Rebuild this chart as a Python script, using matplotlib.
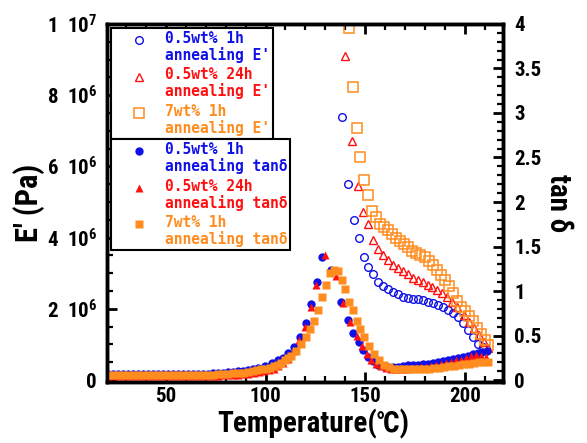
import numpy as np
import matplotlib
matplotlib.use("Agg")
import matplotlib.pyplot as plt
from matplotlib.ticker import MultipleLocator, FixedLocator, FixedFormatter
from matplotlib.legend_handler import HandlerLine2D
import matplotlib.lines as mlines

plt.rcParams['font.family'] = ['Roboto Condensed', 'Noto Sans CJK JP', 'DejaVu Sans']
plt.rcParams['font.weight'] = 'bold'
plt.rcParams['mathtext.fontset'] = 'custom'
plt.rcParams['mathtext.rm'] = 'Roboto Condensed:bold'
plt.rcParams['mathtext.bf'] = 'Roboto Condensed:bold'

# E' storage modulus (x1e6 Pa), only the part below 1e7 is on scale
T_e_1h = [138.4, 141.4, 144.2, 146.7, 149.2, 151.5, 154.0, 156.5, 159.0, 161.5,
          164.0, 166.5, 169.0, 171.5, 174.0, 176.5, 179.0, 181.5, 184.0, 186.5,
          189.0, 191.5, 194.0, 196.5, 199.0, 201.5, 204.0, 206.5, 209.0]
E_1h = [7.38, 5.50, 4.49, 3.99, 3.46, 3.18, 2.99, 2.76, 2.64, 2.55,
        2.48, 2.41, 2.34, 2.30, 2.27, 2.29, 2.25, 2.20, 2.17, 2.11,
        2.04, 1.97, 1.87, 1.78, 1.60, 1.40, 1.22, 1.02, 0.93]

T_e_24h = [139.6, 143.2, 146.2, 148.7, 151.2, 153.7, 156.2, 158.7, 161.2, 163.7,
           166.2, 168.7, 171.2, 173.7, 176.2, 178.7, 181.2, 183.6, 186.1, 188.6,
           191.1, 193.6, 196.1, 199.4, 201.9, 204.4, 206.9, 209.4, 211.4]
E_24h = [9.10, 6.71, 5.46, 4.73, 4.38, 3.93, 3.68, 3.51, 3.37, 3.23,
         3.15, 3.07, 2.98, 2.87, 2.81, 2.76, 2.67, 2.62, 2.53, 2.44,
         2.34, 2.20, 2.06, 1.83, 1.64, 1.46, 1.26, 1.07, 0.90]

T_e_7 = [141.9, 143.7, 145.9, 147.5, 149.5, 151.3, 153.1, 155.3, 157.2, 159.2,
         161.2, 163.2, 165.3, 167.3, 169.5, 171.5, 173.5, 175.5, 177.5, 179.8,
         181.8, 183.8, 185.8, 187.8, 189.8, 191.8, 193.8, 195.8, 197.8, 199.8,
         201.8, 203.8, 205.8, 207.8, 209.8, 211.3]
E_7 = [9.89, 8.24, 7.08, 6.26, 5.62, 5.20, 4.75, 4.59, 4.38, 4.29,
       4.21, 4.09, 3.98, 3.90, 3.82, 3.73, 3.62, 3.56, 3.51, 3.45,
       3.35, 3.22, 3.08, 2.95, 2.82, 2.65, 2.45, 2.22, 2.05, 1.93,
       1.80, 1.65, 1.45, 1.28, 1.12, 0.98]

# tan delta
T_t_1h = [21, 23.5, 26, 28.5, 31, 33.5, 36, 38.5, 41, 43.5,
          46, 48.5, 51, 53.5, 56, 58.5, 61, 63.5, 66, 68.5,
          71, 73.5, 76, 78.5, 81, 83.5, 86, 88.5, 91, 93.5,
          96.3, 99.7, 103.0, 106.3, 108.8, 111.3, 114.1, 117.1, 120.1, 122.9,
          125.8, 128.4, 132.8, 137.9, 141.2, 144.0, 146.7, 148.7, 151.2, 153.7,
          156.2, 158.7, 161.2, 163.7, 166.2, 168.7, 171.2, 173.7, 176.2, 178.7,
          181.2, 183.7, 186.2, 188.7, 191.2, 193.7, 196.2, 198.7, 201.2, 203.7,
          206.2, 208.7, 211.0]
tan_1h = [0.065, 0.065, 0.065, 0.065, 0.065, 0.065, 0.065, 0.065, 0.065, 0.065,
          0.065, 0.065, 0.065, 0.065, 0.065, 0.065, 0.065, 0.066, 0.068, 0.070,
          0.072, 0.075, 0.078, 0.082, 0.087, 0.092, 0.100, 0.107, 0.115, 0.125,
          0.14, 0.16, 0.19, 0.22, 0.25, 0.30, 0.37, 0.48, 0.64, 0.86,
          1.10, 1.38, 1.24, 0.88, 0.68, 0.53, 0.43, 0.34, 0.26, 0.21,
          0.17, 0.155, 0.15, 0.15, 0.15, 0.16, 0.165, 0.17, 0.175, 0.18,
          0.185, 0.19, 0.20, 0.21, 0.22, 0.235, 0.25, 0.26, 0.27, 0.29,
          0.30, 0.32, 0.33]

T_t_24h = [21, 23.5, 26, 28.5, 31, 33.5, 36, 38.5, 41, 43.5,
           46, 48.5, 51, 53.5, 56, 58.5, 61, 63.5, 66, 68.5,
           71, 73.5, 76, 78.5, 81, 83.5, 86, 88.5, 91,
           94, 96.5, 99, 101.5, 104, 106.5, 109, 111.5, 114, 116.8,
           119.6, 122.6, 125.1, 129.6, 135.4, 138.6, 142.5, 145.9, 148.2, 150.9,
           152.9, 155.5, 158, 160.5, 163, 165.5, 168, 170.5, 173, 175.5,
           178, 180.5, 183, 185.5, 188, 190.5, 193, 195.5, 198, 200.5,
           203, 205.5, 208, 210.5]
tan_24h = [0.05, 0.05, 0.05, 0.05, 0.05, 0.05, 0.05, 0.05, 0.05, 0.05,
           0.05, 0.05, 0.05, 0.05, 0.05, 0.05, 0.05, 0.05, 0.05, 0.05,
           0.05, 0.05, 0.05, 0.052, 0.055, 0.058, 0.062, 0.066, 0.072,
           0.08, 0.088, 0.10, 0.115, 0.13, 0.155, 0.19, 0.24, 0.33, 0.45,
           0.60, 0.82, 1.07, 1.41, 1.17, 0.87, 0.65, 0.49, 0.38, 0.29,
           0.23, 0.18, 0.155, 0.14, 0.13, 0.125, 0.125, 0.13, 0.135, 0.14,
           0.145, 0.15, 0.16, 0.17, 0.18, 0.19, 0.20, 0.22, 0.23, 0.25,
           0.27, 0.28, 0.27, 0.26]

T_t_7 = [21, 23.5, 26, 28.5, 31, 33.5, 36, 38.5, 41, 43.5,
         46, 48.5, 51, 53.5, 56, 58.5, 61, 63.5, 66, 68.5,
         71, 73.5, 76, 78.5, 81, 83.5, 86, 88.5, 91, 93.5,
         95.8, 97.9, 100, 102.1, 104.2, 106.3, 108, 109.7, 111.4, 113,
         115.5, 118, 120.1, 122.1, 124.3, 126.3, 128.3, 130.4, 132.1, 134.1,
         136.3, 138.3, 140.0, 141.7, 143.7, 145.9, 147.5, 149.5, 152.0, 154.5,
         157.0, 159.5, 162.0, 164.5, 167.0, 169.5, 172, 174.5, 177, 179.5,
         182, 184.5, 187, 189.5, 192, 194.5, 197, 199.5, 202, 204.5,
         207, 209.5, 211.5]
tan_7 = [0.06, 0.06, 0.06, 0.06, 0.06, 0.06, 0.06, 0.06, 0.06, 0.06,
         0.06, 0.06, 0.06, 0.06, 0.06, 0.06, 0.06, 0.06, 0.06, 0.06,
         0.06, 0.062, 0.064, 0.066, 0.07, 0.074, 0.078, 0.084, 0.09, 0.10,
         0.11, 0.12, 0.13, 0.14, 0.155, 0.17, 0.195, 0.22, 0.245, 0.27,
         0.33, 0.40, 0.48, 0.57, 0.66, 0.79, 0.93, 1.07, 1.20, 1.24,
         1.23, 1.12, 1.02, 0.88, 0.79, 0.66, 0.57, 0.48, 0.38, 0.29,
         0.22, 0.17, 0.145, 0.13, 0.125, 0.12, 0.12, 0.12, 0.125, 0.125,
         0.13, 0.135, 0.14, 0.15, 0.155, 0.16, 0.17, 0.18, 0.185, 0.19,
         0.20, 0.205, 0.20]

labels_E = ["0.5wt% 1h\nannealing E'", "0.5wt% 24h\nannealing E'", "7wt% 1h\nannealing E'"]
labels_tan = ["0.5wt% 1h\nannealing tan\u03b4", "0.5wt% 24h\nannealing tan\u03b4",
              "7wt% 1h\nannealing tan\u03b4"]
ytick_vals = [0, 2e6, 4e6, 6e6, 8e6, 1e7]
ytick_labels = ['0', r'2  $\mathregular{10^{6}}$', r'4  $\mathregular{10^{6}}$',
                r'6  $\mathregular{10^{6}}$', r'8  $\mathregular{10^{6}}$', r'1  $\mathregular{10^{7}}$']
ytick2_vals = [0, 0.5, 1, 1.5, 2, 2.5, 3, 3.5, 4]
ytick2_labels = ['0', '0.5', '1', '1.5', '2', '2.5', '3', '3.5', '4']

blue = '#1010e8'
red = '#ff1010'
orange = '#ff8c1e'


class FirstLineHandler(HandlerLine2D):
    # put the legend marker beside the first line of a two-line label
    def create_artists(self, legend, orig_handle, xdescent, ydescent, width, height, fontsize, trans):
        arts = super().create_artists(legend, orig_handle, xdescent, ydescent, width, height, fontsize, trans)
        for a in arts:
            a.set_ydata(np.asarray(a.get_ydata()) + 0.52 * fontsize)
        return arts


fig = plt.figure(figsize=(5.87, 4.43), dpi=100)
ax = fig.add_axes([0.182, 0.138, 0.675, 0.808])
ax2 = ax.twinx()

ax.plot(T_e_1h, np.array(E_1h) * 1e6, 'o', ms=5.5, mfc='none', mec=blue, mew=1)
ax.plot(T_e_24h, np.array(E_24h) * 1e6, '^', ms=6, mfc='none', mec=red, mew=1)
ax.plot(T_e_7, np.array(E_7) * 1e6, 's', ms=7, mfc='none', mec=orange, mew=1.1)

ax2.plot(T_t_1h, tan_1h, 'o', ms=6, color=blue, mec='none')
ax2.plot(T_t_24h, tan_24h, '^', ms=6.2, color=red, mec='none')
ax2.plot(T_t_7, tan_7, 's', ms=5.8, color=orange, mec='none')

ax.set_xlim(20.5, 219)
ax.set_ylim(-0.05e6, 1e7)
ax2.set_ylim(-0.02, 4)

ax.xaxis.set_major_locator(MultipleLocator(50))
ax.xaxis.set_minor_locator(MultipleLocator(10))
ax.yaxis.set_major_locator(FixedLocator(ytick_vals))
ax.yaxis.set_major_formatter(FixedFormatter(ytick_labels))
ax.yaxis.set_minor_locator(MultipleLocator(0.5e6))
ax2.yaxis.set_major_locator(FixedLocator(ytick2_vals))
ax2.yaxis.set_major_formatter(FixedFormatter(ytick2_labels))
ax2.yaxis.set_minor_locator(MultipleLocator(0.1))

for a in (ax, ax2):
    for s in a.spines.values():
        s.set_linewidth(2.5)
ax.tick_params(which='both', direction='in', top=True, right=False, labelsize=15)
ax.tick_params(which='major', length=7, width=2)
ax.tick_params(which='minor', length=4, width=1.6)
ax.tick_params(axis='y', pad=7)
ax.tick_params(axis='x', pad=4)
ax2.tick_params(which='both', direction='in', labelsize=15, pad=8)
ax2.tick_params(which='major', length=7, width=2)
ax2.tick_params(which='minor', length=4, width=1.6)

ax.set_xlabel('Temperature(\u2103)', fontsize=21, fontweight='bold')
ax.xaxis.set_label_coords(0.521, -0.077)
ax.set_ylabel("E' (Pa)", fontsize=22, fontweight='bold', labelpad=1)
ax2.set_ylabel('tan \u03b4', fontsize=21, fontweight='bold', rotation=270, labelpad=22)

h_e = [mlines.Line2D([], [], ls='none', marker='o', ms=5.5, mfc='none', mec=blue, mew=1),
       mlines.Line2D([], [], ls='none', marker='^', ms=6, mfc='none', mec=red, mew=1),
       mlines.Line2D([], [], ls='none', marker='s', ms=7, mfc='none', mec=orange, mew=1.1)]
h_t = [mlines.Line2D([], [], ls='none', marker='o', ms=6, color=blue, mec='none'),
       mlines.Line2D([], [], ls='none', marker='^', ms=6.2, color=red, mec='none'),
       mlines.Line2D([], [], ls='none', marker='s', ms=5.8, color=orange, mec='none')]

leg_kw = dict(loc='upper left', frameon=True, fancybox=False, edgecolor='black',
              prop={'family': 'DejaVu Sans Mono', 'size': 10.5, 'weight': 'bold'},
              handlelength=3.5, handletextpad=0.0, labelspacing=0.3, borderpad=0.2,
              borderaxespad=0, framealpha=1,
              handler_map={mlines.Line2D: FirstLineHandler()})
leg1 = ax2.legend(h_e, labels_E, bbox_to_anchor=(0.01, 0.989),
                  labelcolor=[blue, red, orange], **leg_kw)
leg1.get_frame().set_linewidth(1.5)
ax2.add_artist(leg1)
leg2 = ax2.legend(h_t, labels_tan, bbox_to_anchor=(0.01, 0.678),
                  labelcolor=[blue, red, orange], **leg_kw)
leg2.get_frame().set_linewidth(1.5)
for lg in (leg1, leg2):
    for t in lg.get_texts():
        t.set_linespacing(1.08)

fig.savefig('out.png', dpi=100)
